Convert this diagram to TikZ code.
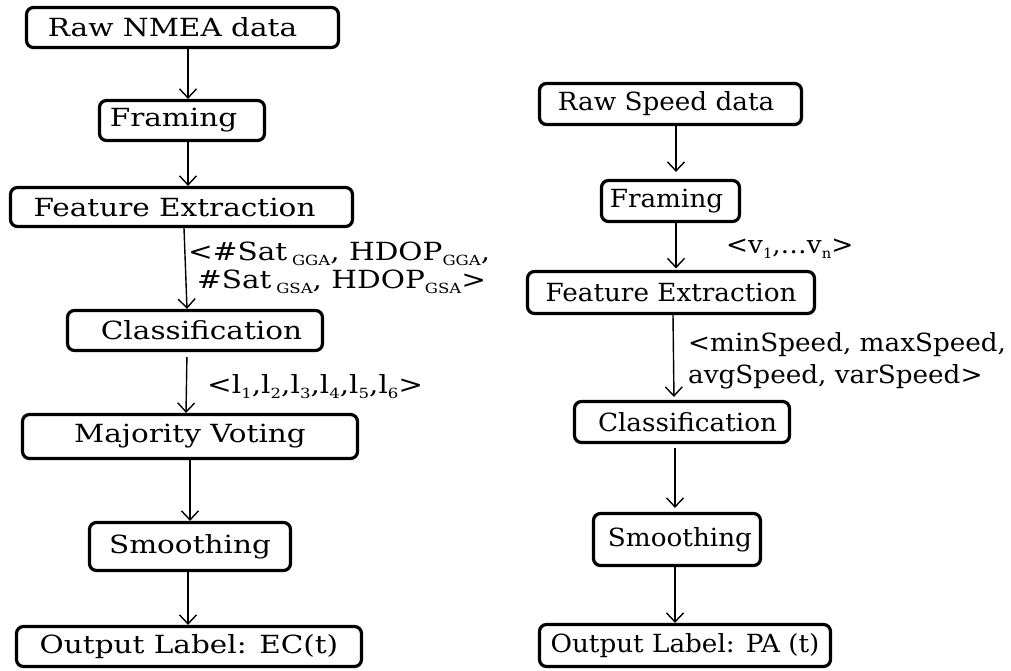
\documentclass[tikz,border=0pt]{standalone}
\usepackage{fontspec}
\usepackage{graphicx}
\setmainfont{DejaVu Serif}
\usetikzlibrary{arrows.meta}

% horizontal widening of the text in each column
\newcommand\lw[1]{\scalebox{1.18}[1]{#1}}
\newcommand\rw[1]{\scalebox{1.05}[1]{#1}}
% lowered small index
\newcommand\sbs[1]{\raisebox{-5pt}{\fontsize{14}{14}\selectfont #1}}

\begin{document}
\begin{tikzpicture}[x=1pt,y=-1pt,
  stage/.style={draw, line width=3.2pt, rounded corners=7pt, inner sep=0pt,
    font=\fontsize{25}{30}\selectfont},
  flow/.style={line width=1.4pt,
    -{Straight Barb[length=9pt,width=17pt,line width=1.4pt]}},
  lblL/.style={inner sep=0pt, align=left, font=\fontsize{25}{28}\selectfont},
  lblR/.style={inner sep=0pt, align=left, font=\fontsize{25}{32}\selectfont}
]
\useasboundingbox (0,0) rectangle (1011,671);

% GPS (NMEA) pipeline
\node[stage, minimum width=312pt, minimum height=40pt] (l1) at (182.5,27.5) {\lw{Raw NMEA data}\kern20pt};
\node[stage, minimum width=165pt, minimum height=40pt] (l2) at (182,120.5) {\lw{Framing}\kern17pt};
\node[stage, minimum width=342pt, minimum height=39pt] (l3) at (181.5,207) {\lw{Feature Extraction}\kern14pt};
\node[stage, minimum width=255pt, minimum height=40pt] (l4) at (195,330.5) {\kern13pt\lw{Classification}};
\node[stage, minimum width=335pt, minimum height=44pt] (l5) at (190,436.5) {\lw{Majority Voting}};
\node[stage, minimum width=201pt, minimum height=48pt] (l6) at (190,546.5) {\lw{Smoothing}};
\node[stage, minimum width=345pt, minimum height=40pt] (l7) at (189,646.5) {\lw{Output Label: EC(t)}};

\draw[flow] ([xshift=5.5pt]l1.south) -- ([xshift=6pt]l2.north);
\draw[flow] ([xshift=6pt]l2.south) -- ([xshift=6.5pt]l3.north);
\draw[flow] ([xshift=2.5pt]l3.south) -- ([xshift=-8pt]l4.north);
\draw[flow, shorten <=5pt] ([xshift=-8pt]l4.south) -- ([xshift=-4pt]l5.north);
\draw[flow] (l5.south) -- (l6.north);
\draw[flow] ([xshift=-2pt]l6.south) -- ([xshift=-1pt]l7.north);

% two-line labels are anchored at the baseline of their last line
\node[lblL, anchor=base west] (f1) at (188,288)
  {\lw{<\#Sat\kern4pt\sbs{GGA}, HDOP\sbs{GGA},}\\
   \hspace*{9pt}\lw{\#Sat\kern4pt\sbs{GSA}, HDOP\sbs{GSA}>}};
\node[lblL, anchor=base west] (f2) at (207,393)
  {\lw{<l\sbs{1},l\sbs{2},l\sbs{3},l\sbs{4},l\sbs{5},l\sbs{6}>}};

% speed pipeline
\node[stage, minimum width=262pt, minimum height=41pt] (r1) at (670.5,104) {\rw{Raw Speed data}\kern9pt};
\node[stage, minimum width=138pt, minimum height=41pt] (r2) at (670.5,201) {\rw{Framing}\kern8pt};
\node[stage, minimum width=287pt, minimum height=42pt] (r3) at (671,292.5) {\rw{Feature Extraction}};
\node[stage, minimum width=215pt, minimum height=41pt] (r4) at (682,422) {\kern11pt\rw{Classification}};
\node[stage, minimum width=167pt, minimum height=52pt] (r5) at (677,539.5) {\kern6pt\rw{Smoothing}};
\node[stage, minimum width=291pt, minimum height=42pt] (r6) at (685,645.5) {\rw{Output Label: PA (t)}};

\draw[flow, shorten >=7pt] ([xshift=5.5pt]r1.south) -- ([xshift=5.5pt]r2.north);
\draw[flow, shorten >=1.5pt] ([xshift=5.5pt]r2.south) -- ([xshift=5pt]r3.north);
\draw[flow, shorten >=3pt] ([xshift=2pt]r3.south) -- ([xshift=-8pt]r4.north);
\draw[flow, shorten <=4pt, shorten >=4pt] ([xshift=-7pt]r4.south) -- ([xshift=-2pt]r5.north);
\draw[flow] ([xshift=-2pt]r5.south) -- ([xshift=-10pt]r6.north);

\node[lblR, anchor=base west] (s1) at (726,253)
  {\rw{<v\sbs{1},…v\sbs{n}>}};
\node[lblR, anchor=base west] (s2) at (688,383)
  {\rw{<minSpeed, maxSpeed,}\\ \rw{avgSpeed, varSpeed>}};
\end{tikzpicture}
\end{document}
